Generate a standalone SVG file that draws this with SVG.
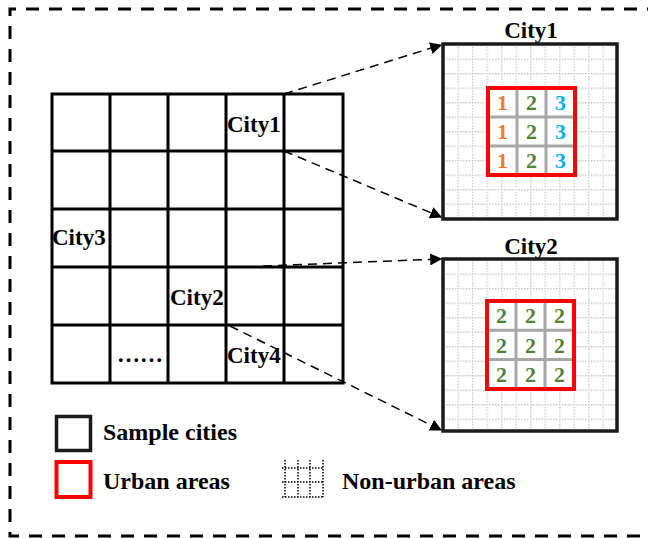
<svg xmlns="http://www.w3.org/2000/svg" width="648" height="538" viewBox="0 0 648 538">
<style>
.t{font-family:"Liberation Serif","Times New Roman",serif;font-weight:bold;fill:#000}
.lbl{font-size:23px}
.leg{font-size:24px}
.d{font-size:22px;text-anchor:middle}
.o{fill:#ED7D31}.g{fill:#548235}.c{fill:#00B0F0}
.grid{stroke:#000;stroke-width:3;fill:none}
.box{stroke:#1a1a1a;stroke-width:3.5}
.red{stroke:#FF0000;stroke-width:4;fill:none}
.gl{stroke:#A6A6A6;stroke-width:3;fill:none}
.conn{stroke:#000;stroke-width:1.5;stroke-dasharray:9 6;fill:none;marker-end:url(#ah)}
</style>
<defs>
<marker id="ah" viewBox="0 0 10 10" refX="9" refY="5" markerWidth="12" markerHeight="12" markerUnits="userSpaceOnUse" orient="auto">
<path d="M0 0L10 5L0 10z" fill="#000"/>
</marker>
<pattern id="p1" width="14.5" height="14.5" patternUnits="userSpaceOnUse" x="443" y="44">
<rect width="14.5" height="14.5" fill="#fff"/>
<path d="M0 0.75H14.5M0.75 0V14.5" stroke="#bdbdbd" stroke-width="1.3" stroke-dasharray="1.3 1.6"/>
</pattern>
<pattern id="p2" width="14.5" height="14.5" patternUnits="userSpaceOnUse" x="443" y="259">
<rect width="14.5" height="14.5" fill="#fff"/>
<path d="M0 0.75H14.5M0.75 0V14.5" stroke="#bdbdbd" stroke-width="1.3" stroke-dasharray="1.3 1.6"/>
</pattern>
</defs>
<rect width="648" height="538" fill="#fff"/>
<path d="M660 9H10V536H660" fill="none" stroke="#000" stroke-width="3" stroke-dasharray="13 10"/>

<g id="map">
<rect x="52" y="94" width="291" height="289" class="grid"/>
<path class="grid" d="M110 94V383M168 94V383M226 94V383M284 94V383M52 151H343M52 209H343M52 267H343M52 325H343"/>
<text class="t lbl" x="227" y="132">City1</text>
<text class="t lbl" x="52" y="245">City3</text>
<text class="t lbl" x="170" y="305">City2</text>
<text class="t lbl" x="227" y="363">City4</text>
<text class="t lbl" x="117" y="362">……</text>
</g>

<g id="connectors">
<path class="conn" d="M284 94L441 45"/>
<path class="conn" d="M284 151L441 217"/>
<path class="conn" d="M263 266L441 259"/>
<path class="conn" d="M230 326L441 430"/>
</g>

<g id="city1">
<text class="t lbl" x="531" y="38" text-anchor="middle">City1</text>
<rect x="443" y="44" width="174" height="175" style="fill:url(#p1)" class="box"/>
<rect x="488" y="88" width="87" height="87" fill="#fff"/>
<path class="gl" d="M517 88V175M546 88V175M488 117H575M488 146H575"/>
<rect x="488" y="88" width="87" height="87" class="red"/>
<text class="t d o" x="502.5" y="110">1</text><text class="t d g" x="531.5" y="110">2</text><text class="t d c" x="560.5" y="110">3</text>
<text class="t d o" x="502.5" y="139">1</text><text class="t d g" x="531.5" y="139">2</text><text class="t d c" x="560.5" y="139">3</text>
<text class="t d o" x="502.5" y="168">1</text><text class="t d g" x="531.5" y="168">2</text><text class="t d c" x="560.5" y="168">3</text>
</g>

<g id="city2">
<text class="t lbl" x="531" y="254" text-anchor="middle">City2</text>
<rect x="443" y="259" width="174" height="172" style="fill:url(#p2)" class="box"/>
<rect x="487" y="301" width="87" height="88" fill="#fff"/>
<path class="gl" d="M516 301V389M545 301V389M487 330.3H574M487 359.6H574"/>
<rect x="487" y="301" width="87" height="88" class="red"/>
<text class="t d g" x="501.5" y="323">2</text><text class="t d g" x="530.5" y="323">2</text><text class="t d g" x="559.5" y="323">2</text>
<text class="t d g" x="501.5" y="352.5">2</text><text class="t d g" x="530.5" y="352.5">2</text><text class="t d g" x="559.5" y="352.5">2</text>
<text class="t d g" x="501.5" y="382">2</text><text class="t d g" x="530.5" y="382">2</text><text class="t d g" x="559.5" y="382">2</text>
</g>

<g id="legend">
<rect x="56.5" y="416.5" width="34" height="34" class="box" fill="none"/>
<text class="t leg" x="103" y="440">Sample cities</text>
<rect x="56.5" y="462" width="34" height="35" class="red"/>
<text class="t leg" x="103" y="489">Urban areas</text>
<path d="M285 460V497M298 460V497M310 460V497M323 460V497M282 468H324M282 482H324M282 497H324" stroke="#000" stroke-width="1.5" stroke-dasharray="1.5 1.5" fill="none"/>
<text class="t leg" x="342" y="489">Non-urban areas</text>
</g>
</svg>
